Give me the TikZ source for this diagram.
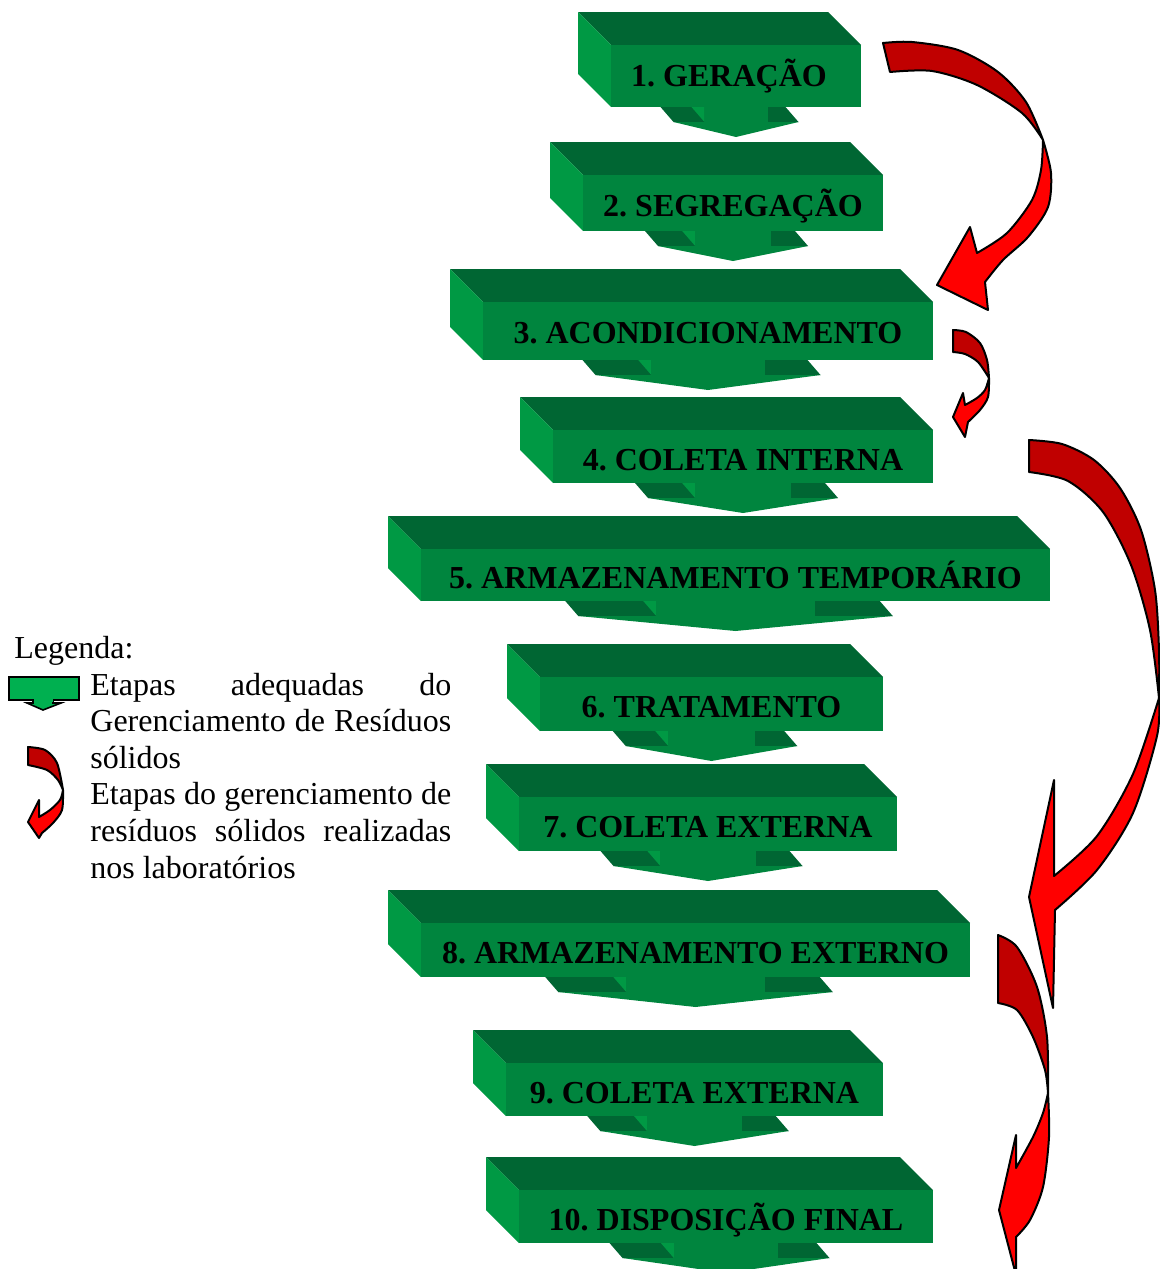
\documentclass[tikz,border=0pt]{standalone}
\usepackage{fontspec}
\setmainfont{Liberation Serif}
\definecolor{gtop}{RGB}{0,102,51}
\definecolor{gside}{RGB}{0,153,68}
\definecolor{gfront}{RGB}{0,133,62}
\definecolor{lgreen}{RGB}{0,176,80}
\definecolor{rdark}{RGB}{192,0,0}
\definecolor{rbright}{RGB}{255,0,0}
\tikzset{
  stepface/.style={fill=gfront, inner sep=0pt},
  steptext/.style={inner sep=0pt, text=black, yshift=-1.5pt,
    font=\bfseries\fontsize{16}{19}\selectfont, text height=10.6pt, text depth=0pt},
  rback/.style={fill=rdark, draw=black, line width=1pt, line join=round},
  rfront/.style={fill=rbright, draw=black, line width=1pt, line join=round},
  legtext/.style={inner sep=0pt, anchor=base west, font=\fontsize{16}{18}\selectfont}
}
% #1 front-left x, #2 front-top y, #3 front-right x, #4 front-bottom y, #5 name, #6 text, #7 extra text shift
\newcommand\greenstep[7]{%
  \pgfmathsetmacro\gcx{(#1+#3)/2}%
  \pgfmathsetmacro\gww{#3-#1}%
  \pgfmathsetmacro\ghw{0.25*\gww}%
  \pgfmathsetmacro\gsw{0.126*\gww}%
  \pgfmathsetmacro\gmw{0.5*\gww}%
  \pgfmathsetmacro\gmh{0.5*(#4-#2)}%
  \pgfmathsetmacro\gcy{(#2+#4)/2}%
  \fill[gtop] (\gcx-\ghw-13,#4) -- (\gcx+\ghw-13,#4) -- (\gcx+\ghw,#4+15) -- (\gcx-\ghw,#4+15) -- cycle;
  \fill[gside] (\gcx-\gsw-13,#4) -- (\gcx-\gsw,#4) -- (\gcx-\gsw,#4+15) -- cycle;
  \fill[gfront] (\gcx-\gsw,#4) rectangle (\gcx+\gsw,#4+15.5);
  \fill[gfront] (\gcx-\ghw,#4+15) -- (\gcx+\ghw,#4+15) -- (\gcx,#4+30) -- cycle;
  \fill[gtop] (#1-33,#2-33) -- (#3-33,#2-33) -- (#3,#2) -- (#1,#2) -- cycle;
  \fill[gside] (#1-33,#2-33) -- (#1,#2) -- (#1,#4) -- (#1-33,#4-33) -- cycle;
  \node[stepface, minimum width=\gmw pt, minimum height=\gmh pt] (#5) at (\gcx,\gcy) {};
  \node[steptext] (#5t) at ([shift={#7}]#5.center) {#6};
}
\begin{document}
\frenchspacing
\begin{tikzpicture}[x=0.5pt,y=-0.5pt]
\useasboundingbox (0,0) rectangle (1160,1269);

\greenstep{611}{45}{861}{107}{n1}{1. GERAÇÃO}{(-7,-3)}
\greenstep{583}{175}{883}{231}{n2}{2. SEGREGAÇÃO}{(0,0)}
\greenstep{483}{302}{933}{360}{n3}{3. ACONDICIONAMENTO}{(0,-1)}
\greenstep{553}{430}{933}{483}{n4}{4. COLETA INTERNA}{(0,0)}
\greenstep{421}{549}{1050}{601}{n5}{5. ARMAZENAMENTO TEMPORÁRIO}{(0,0)}
\greenstep{540}{677}{883}{731}{n6}{6. TRATAMENTO}{(0,0)}
\greenstep{519}{797}{897}{851}{n7}{7. COLETA EXTERNA}{(0,0)}
\greenstep{421}{923}{970}{977}{n8}{8. ARMAZENAMENTO EXTERNO}{(0,0)}
\greenstep{506}{1063}{883}{1116}{n9}{9. COLETA EXTERNA}{(0,0)}
\greenstep{519}{1190}{933}{1243}{n10}{10. DISPOSIÇÃO FINAL}{(0,0)}

% red arrow A (1 -> 3)
\draw[rfront] plot[smooth] coordinates {(1043,140) (1051,173) (1048,207) (1028,237) (1003,260) (985,282)}
  -- (988,310) -- (937,285) -- (970,227) -- (977,253)
  -- plot[smooth] coordinates {(977,253) (1007,233) (1032,200) (1041,170) (1043,140)} -- cycle;
\draw[rback] plot[smooth] coordinates {(883,43) (912,42) (958,50) (998,72) (1026,102) (1043,140)}
  -- plot[smooth] coordinates {(1043,140) (1022,113) (977,85) (932,71) (890,72)} -- cycle;

% red arrow B (3 -> 4)
\draw[rfront] plot[smooth] coordinates {(989,378) (988,397) (980,410) (968,422)}
  -- (965,437) -- (953,417) -- (963,393) -- (965,405)
  -- plot[smooth] coordinates {(965,405) (977,398) (985,390) (989,378)} -- cycle;
\draw[rback] plot[smooth] coordinates {(953,330) (966,332) (980,343) (987,360) (989,378)}
  -- plot[smooth] coordinates {(989,378) (978,362) (965,354) (953,352)} -- cycle;

% red arrow C (4 -> 8)
\draw[rfront] plot[smooth] coordinates {(1159,698) (1157,736) (1133,813) (1097,870) (1055,910)}
  -- (1053,1008) -- (1029,897) -- (1054,780) -- (1054,876)
  -- plot[smooth] coordinates {(1054,876) (1097,836) (1133,774) (1159,698)} -- cycle;
\draw[rback] plot[smooth] coordinates {(1029,440) (1062,444) (1094,460) (1120,488) (1141,530) (1155,590) (1159,650) (1159,698)}
  -- plot[smooth] coordinates {(1159,698) (1150,630) (1131,565) (1103,512) (1068,481) (1029,472)} -- cycle;

% red arrow D (8 -> 10)
\draw[rfront] plot[smooth] coordinates {(1048,1093) (1049,1137) (1043,1187) (1030,1220) (1016,1237)}
  -- (1016,1275) -- (999,1210) -- (1016,1135) -- (1016,1168)
  -- plot[smooth] coordinates {(1016,1168) (1033,1137) (1043,1113) (1048,1093)} -- cycle;
\draw[rback] plot[smooth] coordinates {(998,935) (1017,947) (1037,987) (1047,1037) (1048,1093)}
  -- plot[smooth] coordinates {(1048,1093) (1045,1070) (1033,1037) (1017,1010) (998,1003)} -- cycle;

% legend
\node[legtext] (lg0) at (14,658) {Legenda:};
\fill[lgreen] (33,698) -- (33,703) -- (27,703) -- (43,710) -- (61,703) -- (53,703) -- (53,698) -- cycle;
\draw[line width=0.8pt] (33,700) -- (33,703) -- (27,703) -- (43,710) -- (61,703) -- (53,703) -- (53,700);
\draw[fill=lgreen, line width=0.8pt] (9,677) rectangle (79,700);
\fill[lgreen] (33.5,699) rectangle (52.5,701.5);

\draw[rfront] plot[smooth] coordinates {(63,790) (62,810) (53,823) (42,833)}
  -- (39,838) -- (28,822) -- (39,800) -- (39,817)
  -- plot[smooth] coordinates {(39,817) (50,810) (60,800) (63,790)} -- cycle;
\draw[rback] plot[smooth] coordinates {(28,747) (45,750) (57,763) (63,790)}
  -- plot[smooth] coordinates {(63,790) (58,780) (47,770) (28,765)} -- cycle;

\node[legtext] (lg1) at (90,695) {\makebox[180.5pt][s]{Etapas adequadas do}};
\node[legtext] (lg2) at (90,731) {\makebox[180.5pt][s]{Gerenciamento de Resíduos}};
\node[legtext] (lg3) at (90,768) {sólidos};
\node[legtext] (lg4) at (90,804) {\makebox[180.5pt][s]{Etapas do gerenciamento de}};
\node[legtext] (lg5) at (90,841) {\makebox[180.5pt][s]{resíduos sólidos realizadas}};
\node[legtext] (lg6) at (90,878) {nos laboratórios};
\end{tikzpicture}
\end{document}
